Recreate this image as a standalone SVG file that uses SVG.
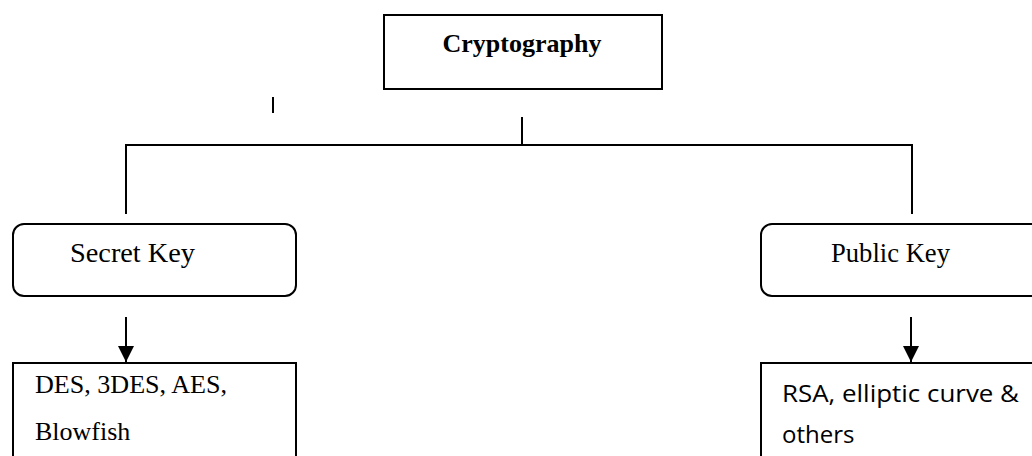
<svg xmlns="http://www.w3.org/2000/svg" width="1032" height="456" viewBox="0 0 1032 456">
<style>
.box{fill:#fff;stroke:#000;stroke-width:2}
.ln{fill:none;stroke:#000;stroke-width:2}
.serif{font-family:"Liberation Serif","Times New Roman",serif;fill:#000}
.sans{font-family:"Open Sans","Liberation Sans",Arial,sans-serif;fill:#000}
</style>
<defs>
<marker id="ah" markerWidth="8" markerHeight="8" refX="8" refY="4" orient="auto" markerUnits="strokeWidth">
<path d="M0,0 L8,4 L0,8 Z" fill="#000"/>
</marker>
</defs>
<rect width="1032" height="456" fill="#fff"/>
<g id="connectors">
<line class="ln" x1="273" y1="97" x2="273" y2="113"/>
<line class="ln" x1="522" y1="117" x2="522" y2="145"/>
<polyline class="ln" points="126,214 126,145 912,145 912,214"/>
<line class="ln" x1="126" y1="317" x2="126" y2="362" marker-end="url(#ah)"/>
<line class="ln" x1="911" y1="317" x2="911" y2="362" marker-end="url(#ah)"/>
</g>
<g id="cryptography">
<rect class="box" x="384" y="15" width="278" height="74" stroke-width="2.5"/>
<text class="serif" x="522" y="52" font-size="26" font-weight="bold" text-anchor="middle">Cryptography</text>
</g>
<g id="secret-key">
<rect class="box" x="13" y="224" width="283" height="72" rx="11"/>
<text class="serif" x="70" y="262" font-size="27" textLength="125" lengthAdjust="spacingAndGlyphs">Secret Key</text>
</g>
<g id="public-key">
<rect class="box" x="761" y="224" width="290" height="72" rx="11"/>
<text class="serif" x="831" y="262" font-size="27" textLength="119" lengthAdjust="spacingAndGlyphs">Public Key</text>
</g>
<g id="secret-algos">
<rect class="box" x="13" y="363" width="283" height="110"/>
<text class="serif" x="35" y="393" font-size="26" textLength="192" lengthAdjust="spacingAndGlyphs">DES, 3DES, AES,</text>
<text class="serif" x="35" y="440" font-size="26">Blowfish</text>
</g>
<g id="public-algos">
<rect class="box" x="761" y="363" width="290" height="110"/>
<text class="sans" x="782" y="402" font-size="24" textLength="237" lengthAdjust="spacingAndGlyphs">RSA, elliptic curve &amp;</text>
<text class="sans" x="782" y="443" font-size="24">others</text>
</g>
</svg>
